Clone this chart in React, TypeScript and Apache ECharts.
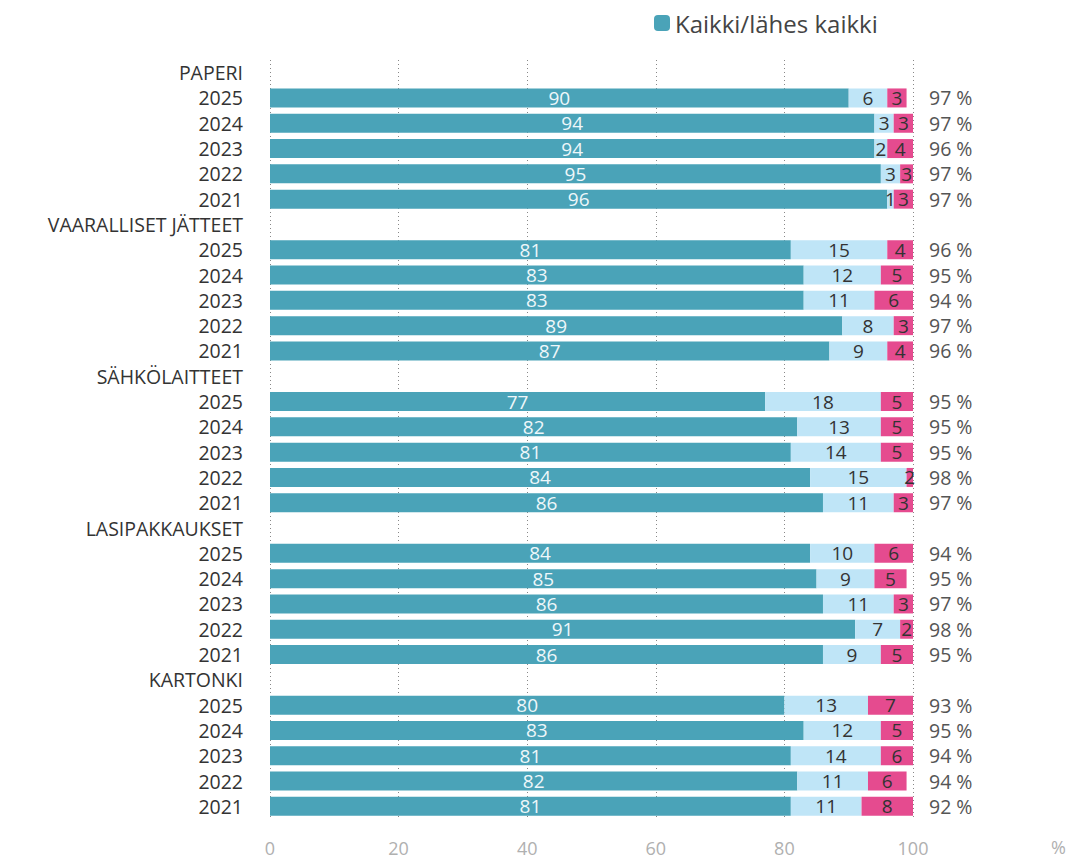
import React, { useEffect, useRef } from "react";
import * as echarts from "echarts";

const categories = [
  "PAPERI", "2025", "2024", "2023", "2022", "2021",
  "VAARALLISET JÄTTEET", "2025", "2024", "2023", "2022", "2021",
  "SÄHKÖLAITTEET", "2025", "2024", "2023", "2022", "2021",
  "LASIPAKKAUKSET", "2025", "2024", "2023", "2022", "2021",
  "KARTONKI", "2025", "2024", "2023", "2022", "2021",
];

const allOrMost = [
  null, 90, 94, 94, 95, 96,
  null, 81, 83, 83, 89, 87,
  null, 77, 82, 81, 84, 86,
  null, 84, 85, 86, 91, 86,
  null, 80, 83, 81, 82, 81,
];

const most = [
  null, 6, 3, 2, 3, 1,
  null, 15, 12, 11, 8, 9,
  null, 18, 13, 14, 15, 11,
  null, 10, 9, 11, 7, 9,
  null, 13, 12, 14, 11, 11,
];

const fewOrNone = [
  null, 3, 3, 4, 3, 3,
  null, 4, 5, 6, 3, 4,
  null, 5, 5, 5, 2, 3,
  null, 6, 5, 3, 2, 5,
  null, 7, 5, 6, 6, 8,
];

const totals = [
  "", "97 %", "97 %", "96 %", "97 %", "97 %",
  "", "96 %", "95 %", "94 %", "97 %", "96 %",
  "", "95 %", "95 %", "95 %", "98 %", "97 %",
  "", "94 %", "95 %", "97 %", "98 %", "95 %",
  "", "93 %", "95 %", "94 %", "94 %", "92 %",
];

const xTicks = [0, 20, 40, 60, 80, 100];

const FONT = "'Open Sans', 'Noto Sans', sans-serif";

export default function App() {
  const ref = useRef<HTMLDivElement>(null);
  useEffect(() => {
    document.body.style.margin = "0";
    if (!ref.current) return;
    const chart = echarts.init(ref.current, null, { renderer: "svg" });
    const barW = 19;
    chart.setOption({
      animation: false,
      textStyle: { fontFamily: FONT },
      legend: {
        data: ["Kaikki/lähes kaikki"],
        left: 649,
        top: 6,
        itemWidth: 16,
        itemHeight: 16,
        itemGap: 4,
        textStyle: { fontSize: 24, color: "#444", fontFamily: FONT },
      },
      grid: { left: 270, right: 158, top: 60, bottom: 42, containLabel: false },
      xAxis: {
        type: "value",
        min: xTicks[0],
        max: xTicks[xTicks.length - 1],
        interval: 20,
        axisLine: { show: false },
        axisTick: { show: false },
        axisLabel: { color: "#b0b0b0", fontSize: 18, margin: 20, fontFamily: FONT },
        splitLine: { show: true, lineStyle: { color: "#888", type: [1, 3], width: 1 } },
      },
      yAxis: [
        {
          type: "category",
          data: categories,
          inverse: true,
          axisLine: { show: false },
          axisTick: { show: false },
          axisLabel: { interval: 0, color: "#333", fontSize: 19.5, lineHeight: 20, margin: 27, fontFamily: FONT },
        },
        {
          type: "category",
          data: totals,
          inverse: true,
          position: "right",
          axisLine: { show: false },
          axisTick: { show: false },
          axisLabel: { interval: 0, color: "#555", fontSize: 19.5, lineHeight: 20, margin: 16, align: "left", fontFamily: FONT },
        },
      ],
      graphic: [
        {
          type: "text",
          left: 1051,
          top: 838,
          style: { text: "%", fontSize: 18, fill: "#b0b0b0", fontFamily: FONT },
        },
      ],
      series: [
        {
          name: "Kaikki/lähes kaikki",
          type: "bar",
          stack: "t",
          barWidth: barW,
          data: allOrMost,
          itemStyle: { color: "#4aa3b8" },
          label: { show: true, position: "inside", color: "#eef7fa", fontSize: 19, lineHeight: 19, fontFamily: FONT },
        },
        {
          name: "Suurin osa",
          type: "bar",
          stack: "t",
          barWidth: barW,
          data: most,
          itemStyle: { color: "#bfe5f7" },
          label: { show: true, position: "inside", color: "#333", fontSize: 19, lineHeight: 19, fontFamily: FONT },
        },
        {
          name: "Osa tai ei mitään",
          type: "bar",
          stack: "t",
          barWidth: barW,
          data: fewOrNone,
          itemStyle: { color: "#e54b8f" },
          label: { show: true, position: "inside", color: "#333", fontSize: 19, lineHeight: 19, fontFamily: FONT },
        },
      ],
    });
    return () => chart.dispose();
  }, []);
  return <div ref={ref} style={{ width: 1071, height: 861 }} />;
}
